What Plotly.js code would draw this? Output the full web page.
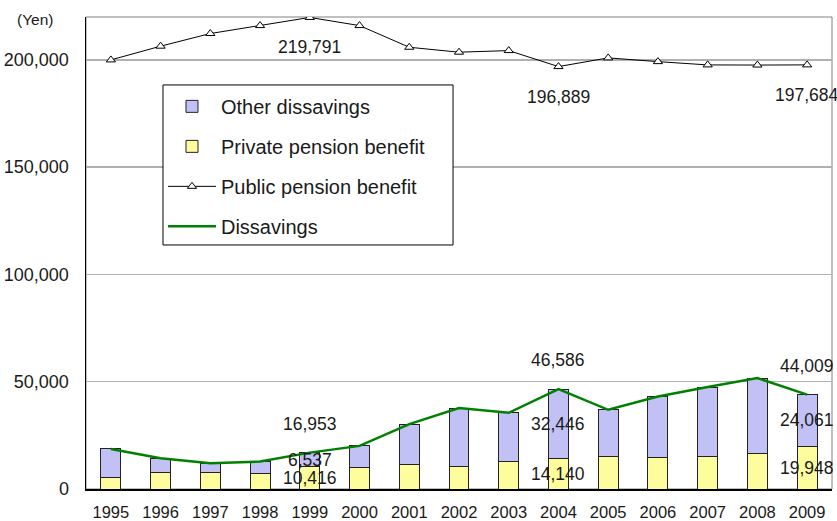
<!DOCTYPE html>
<html>
<head>
<meta charset="utf-8">
<script src="https://cdn.plot.ly/plotly-3.0.1.min.js"></script>
<style>
  html, body { margin: 0; padding: 0; background: #fff; }
  #chart { width: 837px; height: 521px; }
</style>
</head>
<body>
<div id="chart"></div>
<script>
// ---- data (Yen) ----
const years = ['1995','1996','1997','1998','1999','2000','2001','2002','2003','2004','2005','2006','2007','2008','2009'];
const privatePension = [5450, 7630, 7790, 7320, 10416, 9810, 11530, 10430, 12770, 14140, 15270, 14490, 15270, 16680, 19948];
const otherDissavings = [13240, 6710, 4210, 5450, 6537, 10280, 18700, 27270, 22740, 32446, 21650, 28640, 32240, 35030, 24061];
const dissavings = [18690, 14340, 12000, 12770, 16953, 20090, 30230, 37700, 35510, 46586, 36920, 43130, 47510, 51710, 44009];
const publicPension = [200000, 206400, 212300, 216000, 219791, 216000, 205900, 203600, 204350, 196889, 200940, 199200, 197670, 197600, 197684];
const labelledYears = ['1999', '2004', '2009'];
const yTickVals = [0, 50000, 100000, 150000, 200000];
const yTickText = ['0', '50,000', '100,000', '150,000', '200,000'];

const FONT = 'Liberation Sans, Arial, sans-serif';
const TXT = '#1a1a1a';
const fmt = v => v.toLocaleString('en-US');

const traces = [
  {
    type: 'bar', name: 'Private pension benefit', x: years, y: privatePension,
    width: 0.4, legendgroup: 'b', legendrank: 2,
    marker: { color: '#fdfd9e', line: { color: '#222', width: 1 } },
    hoverinfo: 'skip'
  },
  {
    type: 'bar', name: 'Other dissavings', x: years, y: otherDissavings,
    width: 0.4, legendgroup: 'a', legendrank: 1,
    marker: {
      color: '#c4c4f6',
      line: { color: '#222', width: 1 },
      pattern: { shape: '.', size: 2, solidity: 0.5, fgcolor: '#a4a4ee', bgcolor: '#d8d8fb', fillmode: 'replace' }
    },
    hoverinfo: 'skip'
  },
  {
    type: 'scatter', mode: 'lines+markers', name: 'Public pension benefit',
    x: years, y: publicPension, legendgroup: 'c', legendrank: 3,
    line: { color: '#000', width: 1 },
    marker: { symbol: 'triangle-up', size: 8, color: '#fff', line: { color: '#000', width: 1 } },
    hoverinfo: 'skip'
  },
  {
    type: 'scatter', mode: 'lines', name: 'Dissavings',
    x: years, y: dissavings, legendgroup: 'd', legendrank: 4,
    line: { color: '#008000', width: 2.5 },
    hoverinfo: 'skip'
  }
];

// value labels: x given as category index so numeric-looking year strings are not misread
const annotations = [];
const lab = (i, y, text, yshift) => annotations.push({
  x: i, y: y, xref: 'x', yref: 'y', text: text, showarrow: false,
  yshift: yshift, font: { family: FONT, size: 17.5, color: TXT }
});
labelledYears.forEach(yr => {
  const i = years.indexOf(yr);
  lab(i, publicPension[i], fmt(publicPension[i]), -30);
  lab(i, dissavings[i], fmt(dissavings[i]), 29);
  lab(i, privatePension[i] + otherDissavings[i] / 2, fmt(otherDissavings[i]), 0);
  lab(i, privatePension[i] / 2, fmt(privatePension[i]), 0);
});
annotations.push({
  xref: 'paper', yref: 'paper', x: -0.095, y: 0.994, xanchor: 'left', yanchor: 'middle',
  text: '(Yen)', showarrow: false, font: { family: FONT, size: 15.5, color: TXT }
});

const layout = {
  width: 837, height: 521,
  margin: { l: 86, r: 5, t: 17, b: 32 },
  paper_bgcolor: '#fff', plot_bgcolor: '#fff',
  barmode: 'stack',
  showlegend: true,
  legend: {
    x: 0.1032, y: 0.852, xanchor: 'left', yanchor: 'top',
    bgcolor: 'rgba(0,0,0,0)', borderwidth: 0,
    font: { family: FONT, size: 20, color: TXT },
    traceorder: 'grouped', tracegroupgap: 11, itemwidth: 48
  },
  xaxis: {
    type: 'category', range: [-0.5, 14.5],
    showline: true, linecolor: '#000', linewidth: 1.5,
    showgrid: false, ticks: '', ticklabelstandoff: 8,
    tickfont: { family: FONT, size: 16.5, color: TXT }, zeroline: false
  },
  yaxis: {
    range: [0, 220000],
    tickvals: yTickVals, ticktext: yTickText,
    showline: true, linecolor: '#000', linewidth: 1.5,
    showgrid: true, gridcolor: '#b0b0b0', gridwidth: 1.5,
    ticks: '', ticklabelstandoff: 12, zeroline: false,
    tickfont: { family: FONT, size: 18, color: TXT }
  },
  shapes: [
    { // plot-area frame
      type: 'rect', xref: 'paper', yref: 'paper', x0: 0, x1: 1, y0: 0, y1: 1,
      line: { color: '#808080', width: 1 }, layer: 'below'
    },
    { // legend box (wider than Plotly's auto-sized legend)
      type: 'rect', xref: 'paper', yref: 'paper', x0: 0.1032, x1: 0.492, y0: 0.517, y1: 0.856,
      line: { color: '#000', width: 1 }, fillcolor: '#fff', layer: 'above'
    }
  ],
  annotations: annotations
};

Plotly.newPlot('chart', traces, layout, { staticPlot: true, displayModeBar: false });
</script>
</body>
</html>
